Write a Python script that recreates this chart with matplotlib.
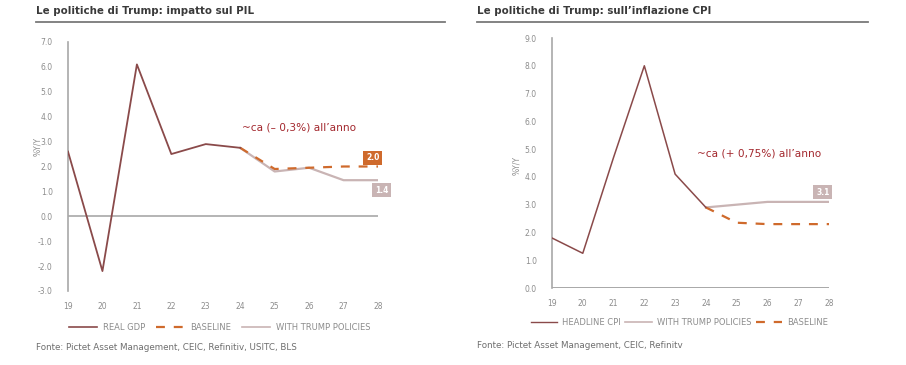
import matplotlib
matplotlib.use('Agg')
import matplotlib.pyplot as plt
from matplotlib.lines import Line2D

# --- data ---
years = [19, 20, 21, 22, 23, 24, 25, 26, 27, 28]

gdp_years = [19, 20, 21, 22, 23, 24]
real_gdp = [2.6, -2.2, 6.1, 2.5, 2.9, 2.75]
gdp_fc_years = [24, 25, 26, 27, 28]
gdp_baseline = [2.75, 1.9, 1.95, 2.0, 2.0]
gdp_trump = [2.75, 1.8, 1.95, 1.45, 1.45]

cpi_years = [19, 20, 21, 22, 23, 24]
headline_cpi = [1.8, 1.25, 4.7, 8.0, 4.1, 2.9]
cpi_fc_years = [24, 25, 26, 27, 28]
cpi_trump = [2.9, 3.0, 3.1, 3.1, 3.1]
cpi_baseline = [2.9, 2.35, 2.3, 2.3, 2.3]

# --- styles ---
C_MAIN = '#8A4A4A'
C_BASE = '#CF6A2C'
C_TRUMP = '#C9B4B4'
C_AXIS = '#A8A8A8'
C_TICK = '#8C8C8C'
C_NOTE = '#A3282E'
C_TITLE = '#3A3A3A'

W, H = 906, 365
fig = plt.figure(figsize=(W / 100, H / 100), dpi=100)
fig.patch.set_facecolor('white')


def px_axes(x0, y0, x1, y1):
    return fig.add_axes([x0 / W, 1 - y1 / H, (x1 - x0) / W, (y1 - y0) / H])


def style(ax, ylim, yticks):
    ax.set_xlim(19, 28)
    ax.set_ylim(*ylim)
    ax.set_xticks(years)
    ax.set_xticklabels([str(y) for y in years])
    ax.set_yticks(yticks)
    ax.set_yticklabels([f'{v:.1f}' for v in yticks])
    for s in ['top', 'right', 'bottom']:
        ax.spines[s].set_visible(False)
    ax.spines['left'].set_color(C_AXIS)
    ax.spines['left'].set_linewidth(1.2)
    ax.tick_params(length=0, labelsize=5.5, colors=C_TICK, pad=11)
    ax.tick_params(axis='x', pad=8)
    ax.set_facecolor('none')


def box(ax, x, y, txt, fc):
    ax.text(x, y, txt, fontsize=5.5, color='white', fontweight='bold',
            ha='center', va='center',
            bbox=dict(boxstyle='square,pad=0.35', fc=fc, ec='none'), clip_on=False)


# ---------------- left: GDP ----------------
ax1 = px_axes(68, 42, 378, 291)
style(ax1, (-3, 7), [7, 6, 5, 4, 3, 2, 1, 0, -1, -2, -3])
ax1.axhline(0, color=C_AXIS, lw=1.2, zorder=1)
ax1.plot(gdp_fc_years, gdp_trump, color=C_TRUMP, lw=1.6, zorder=3)
ax1.plot(gdp_fc_years, gdp_baseline, color=C_BASE, lw=1.6, ls=(0, (4, 4)), zorder=4)
ax1.plot(gdp_years, real_gdp, color=C_MAIN, lw=1.3, zorder=5)
ax1.set_ylabel('%Y/Y', fontsize=5.5, color=C_TICK)
ax1.yaxis.set_label_coords(-0.085, 0.58)
ax1.text(24.05, 3.45, "~ca (– 0,3%) all’anno", fontsize=7.6, color=C_NOTE)
box(ax1, 27.85, 2.35, '2.0', C_BASE)
box(ax1, 28.1, 1.05, '1.4', C_TRUMP)
ax1.legend([Line2D([], [], color=C_MAIN, lw=1.2),
            Line2D([], [], color=C_BASE, lw=1.6, ls=(0, (4, 4))),
            Line2D([], [], color=C_TRUMP, lw=1.2)],
           ['REAL GDP', 'BASELINE', 'WITH TRUMP POLICIES'],
           loc='upper center', bbox_to_anchor=(0.49, -0.1), ncol=3, frameon=False,
           fontsize=6, labelcolor=C_TICK, handlelength=3.4, columnspacing=1.3,
           handletextpad=0.7)

# ---------------- right: CPI ----------------
ax2 = px_axes(552, 38, 829, 288)
style(ax2, (0, 9), [9, 8, 7, 6, 5, 4, 3, 2, 1, 0])
ax2.axhline(0, color=C_AXIS, lw=1.4, zorder=1)
ax2.plot(cpi_fc_years, cpi_trump, color=C_TRUMP, lw=1.6, zorder=3)
ax2.plot(cpi_fc_years, cpi_baseline, color=C_BASE, lw=1.6, ls=(0, (4, 4)), zorder=4)
ax2.plot(cpi_years, headline_cpi, color=C_MAIN, lw=1.1, zorder=5)
ax2.set_ylabel('%Y/Y', fontsize=5.5, color=C_TICK)
ax2.yaxis.set_label_coords(-0.11, 0.49)
ax2.text(23.7, 4.75, "~ca (+ 0,75%) all’anno", fontsize=7.6, color=C_NOTE)
box(ax2, 27.8, 3.45, '3.1', C_TRUMP)
ax2.legend([Line2D([], [], color=C_MAIN, lw=1.0),
            Line2D([], [], color=C_TRUMP, lw=1.2),
            Line2D([], [], color=C_BASE, lw=1.6, ls=(0, (4, 4)))],
           ['HEADLINE CPI', 'WITH TRUMP POLICIES', 'BASELINE'],
           loc='upper center', bbox_to_anchor=(0.46, -0.09), ncol=3, frameon=False,
           fontsize=6, labelcolor=C_TICK, handlelength=3.2, columnspacing=0.5,
           handletextpad=0.6)

# ---------------- titles, rules, sources ----------------
fig.text(36 / W, 1 - 11 / H, 'Le politiche di Trump: impatto sul PIL', fontsize=7.4,
         fontweight='bold', color=C_TITLE, va='center')
fig.text(477 / W, 1 - 11 / H, 'Le politiche di Trump: sull’inflazione CPI', fontsize=7.4,
         fontweight='bold', color=C_TITLE, va='center')
fig.add_artist(Line2D([36 / W, 445 / W], [1 - 22 / H] * 2, color='#7A7A7A', lw=1.3))
fig.add_artist(Line2D([477 / W, 868 / W], [1 - 22 / H] * 2, color='#7A7A7A', lw=1.3))
fig.text(36 / W, 1 - 348 / H, 'Fonte: Pictet Asset Management, CEIC, Refinitiv, USITC, BLS',
         fontsize=6.3, color='#6E6E6E', va='center')
fig.text(477 / W, 1 - 345 / H, 'Fonte: Pictet Asset Management, CEIC, Refinitv',
         fontsize=6.3, color='#6E6E6E', va='center')

plt.savefig('out.png', dpi=100, facecolor='white')
